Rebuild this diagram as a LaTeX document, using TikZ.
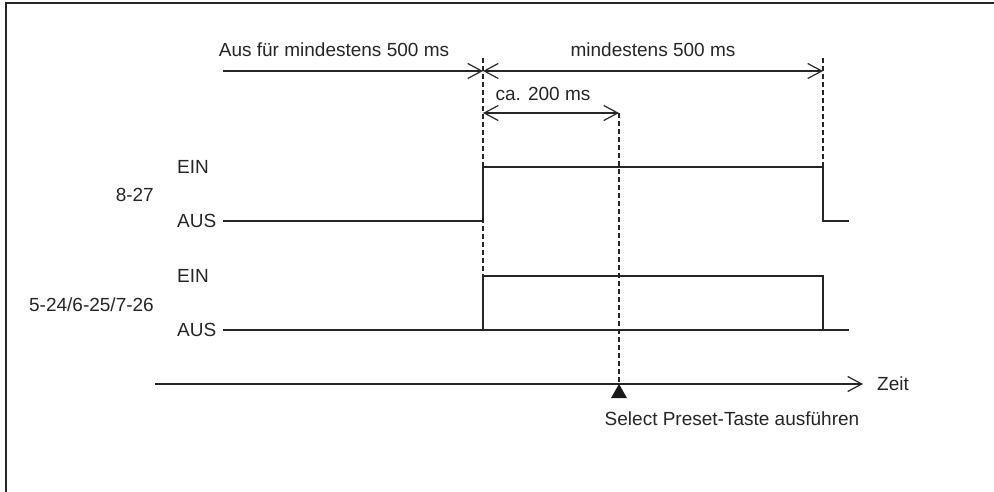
\documentclass[tikz,border=0pt]{standalone}
\usepackage{fontspec}
\setmainfont{Liberation Sans}
\usetikzlibrary{arrows.meta}
\begin{document}
\begin{tikzpicture}[x=1pt,y=-1pt,
  lbl/.style={inner sep=0pt, font=\fontsize{19}{22}\selectfont, text=black!85},
  sig/.style={line width=1.4pt, black!85},
  dim/.style={line width=1.4pt, black!85},
  vdash/.style={line width=1.4pt, black!85, dash pattern=on 5pt off 3pt},
  barb/.tip={Straight Barb[length=14pt,width=15pt,line width=1.2pt]}]
\useasboundingbox (0,0) rectangle (994,492);
% frame
\draw[line width=2.2pt, black!85] (6,492) -- (6,3) -- (994,3);

% key coordinates
\coordinate (t0) at (483,71);
\coordinate (t1) at (823,71);
\coordinate (tl) at (223,71);
\coordinate (c0) at (483,113);
\coordinate (c1) at (619,113);

% dashed verticals
\coordinate (d0a) at (483,58);
\coordinate (d0b) at (483,276);
\coordinate (d1a) at (619,113);
\coordinate (d1b) at (619,384);
\coordinate (d2a) at (823,58);
\coordinate (d2b) at (823,167);
\draw[vdash] (d0a) -- (d0b);
\draw[vdash] (d1a) -- (d1b);
\draw[vdash] (d2a) -- (d2b);

% dimension arrows
\draw[dim, -barb] (tl) -- (t0);
\draw[dim, barb-barb] (t0) -- (t1);
\draw[dim, barb-barb] (c0) -- (c1);
\node[lbl] (l1) at (334,50) {Aus für mindestens 500 ms};
\node[lbl] (l2) at (653,50) {mindestens 500 ms};
\node[lbl] (l3) at (543,94) {ca. 200 ms};

% signal 1
\node[lbl, anchor=east] (s1) at (154,195) {8-27};
\node[lbl, anchor=west] (e1) at (177,167) {EIN};
\node[lbl, anchor=west] (a1) at (177,221) {AUS};
\coordinate (p1) at (223,221);
\coordinate (p2) at (483,221);
\coordinate (p3) at (483,167);
\coordinate (p4) at (823,167);
\coordinate (p5) at (823,221);
\coordinate (p6) at (849,221);
\draw[sig] (p1) -- (p2) -- (p3) -- (p4) -- (p5) -- (p6);

% signal 2
\node[lbl, anchor=east] (s2) at (154,305) {5-24/6-25/7-26};
\node[lbl, anchor=west] (e2) at (177,276) {EIN};
\node[lbl, anchor=west] (a2) at (177,330) {AUS};
\coordinate (q1) at (223,330);
\coordinate (q2) at (849,330);
\coordinate (q3) at (483,330);
\coordinate (q4) at (483,276);
\coordinate (q5) at (823,276);
\coordinate (q6) at (823,330);
\draw[sig] (q1) -- (q2);
\draw[sig] (q3) -- (q4) -- (q5) -- (q6);

% time axis
\coordinate (ax0) at (155,384);
\coordinate (ax1) at (863,384);
\draw[dim, -barb] (ax0) -- (ax1);
\node[lbl, anchor=west] (zeit) at (877,384) {Zeit};
\fill[black!90] (619,384) -- (611,398) -- (627,398) -- cycle;
\node[lbl] (sel) at (732,419) {Select Preset-Taste ausführen};
\end{tikzpicture}
\end{document}
